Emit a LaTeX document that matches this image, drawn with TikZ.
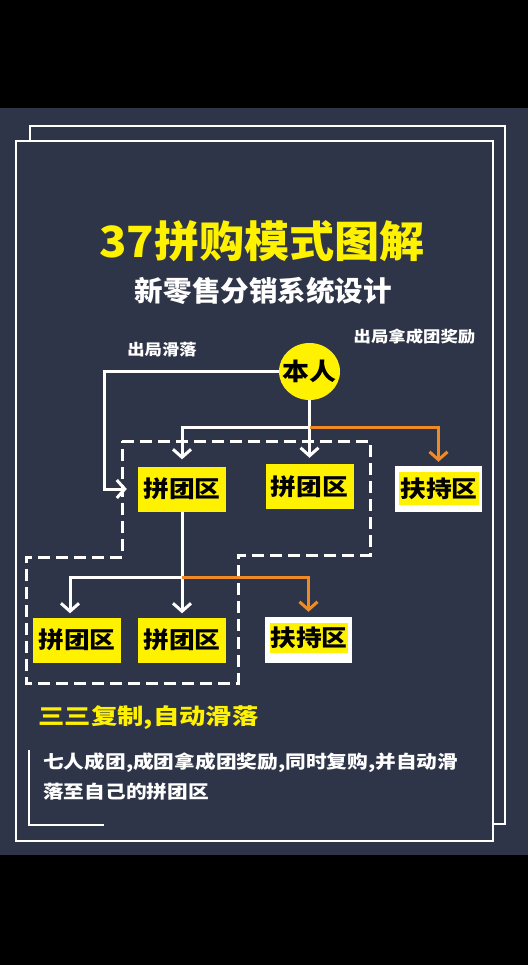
\documentclass[tikz,border=0pt]{standalone}
\usepackage{fontspec}
\usetikzlibrary{arrows.meta,shapes.geometric}
\newfontfamily\cjkT{Noto Sans CJK SC}[FakeStretch=1.05]
\newfontfamily\cjkY{Noto Sans CJK SC}[FakeStretch=1.2]
\newfontfamily\cjkS{Noto Sans CJK SC}[FakeStretch=1.02]
\newfontfamily\cjkB{Noto Sans CJK SC}[FakeStretch=1.12]
\newfontfamily\cjkC{Noto Sans CJK SC}[FakeStretch=1.15]
\definecolor{bg}{HTML}{2F3548}
\definecolor{ylw}{HTML}{FFF200}
\definecolor{org}{HTML}{EF8A26}
\tikzset{
  frame/.style={draw=white, line width=2.5pt},
  wl/.style={draw=white, line width=3pt},
  ol/.style={draw=org, line width=3pt},
  arr/.style={-{Straight Barb[length=8pt,width=18pt]}},
  dashbox/.style={draw=white, line width=3pt, dash pattern=on 12pt off 6pt},
  tuan/.style={rectangle, fill=ylw, minimum width=88pt, minimum height=45pt, inner sep=0pt,
    text=black, font=\cjkB\bfseries\fontsize{23}{23}\selectfont},
  fuout/.style={rectangle, fill=white, minimum width=87pt, minimum height=46pt, inner sep=0pt},
  fuin/.style={rectangle, fill=ylw, inner sep=0pt, text=black,
    font=\cjkB\bfseries\fontsize{23}{23}\selectfont},
  lbl/.style={text=white, font=\cjkB\bfseries\fontsize{15.5}{15.5}\selectfont, inner sep=0pt},
}
\begin{document}
\begin{tikzpicture}[x=1pt,y=-1pt]
\useasboundingbox (0,0) rectangle (528,965);
\fill[black] (0,0) rectangle (528,965);
\fill[bg] (0,108) rectangle (528,855);
\draw[frame] (30,126) rectangle (505,824);
\draw[frame, fill=bg] (16,141) rectangle (493,841);

\node[text=ylw, font=\cjkT\bfseries\fontsize{43}{43}\selectfont, inner sep=0pt] (title) at (262,241) {37拼购模式图解};
\node[text=white, font=\cjkS\bfseries\fontsize{28}{28}\selectfont, inner sep=0pt] (sub) at (263.5,291) {新零售分销系统设计};

\node[lbl] (l1) at (162,350) {出局滑落};
\node[lbl] (l2) at (414.5,337) {出局拿成团奖励};

\node[ellipse, fill=ylw, minimum width=61pt, minimum height=57pt, inner sep=0pt] (ben) at (309.5,371.5) {};
\node[text=black, font=\cjkB\bfseries\fontsize{24}{24}\selectfont, inner sep=0pt] (bent) at (ben.center) {本人};

% dashed outline
\draw[dashbox] (122,441) -- (370,441) -- (370,555) -- (238,555) -- (238,683) -- (26,683) -- (26,557) -- (122,557) -- cycle;

% row 1
\node[tuan] (t1) at (182,489) {拼团区};
\node[tuan] (t2) at (309.5,486.5) {拼团区};
\node[fuout] (f1) at (438.5,489) {};
\node[fuin, minimum width=80pt, minimum height=33pt] (f1t) at (439,488.5) {扶持区};

% row 2
\node[tuan] (tA) at (77,640) {拼团区};
\node[tuan] (tB) at (182,640) {拼团区};
\node[fuout] (f2) at (308.5,640) {};
\node[fuin, minimum width=76pt, minimum height=30pt] (f2t) at (309,638) {扶持区};

% connectors row 1
\coordinate (k1) at (104,371.5);
\coordinate (j1) at (310,427);
\draw[wl, arr, shorten >=11pt] (ben.west) -- (k1) |- (t1.west);
\draw[wl, arr, shorten >=6pt] (ben.south) -- (t2.north);
\draw[wl, arr, shorten >=7pt] (j1) -| (t1.north);
\draw[ol, arr, shorten >=4pt] (j1) -| (f1.north);

% connectors row 2
\coordinate (j2) at (182,577);
\draw[wl, arr, shorten >=4pt] (t1.south) -- (tB.north);
\draw[wl, arr, shorten >=4pt] (j2) -| ([xshift=-7pt]tA.north);
\draw[ol, arr, shorten >=5pt] (j2) -| (f2.north);

% bottom texts
\node[anchor=west, text=ylw, font=\cjkY\bfseries\fontsize{22}{22}\selectfont, inner sep=0pt] (s1) at (38,718) {三三复制,自动滑落};
\node[anchor=west, align=left, text=white, font=\cjkC\bfseries\fontsize{18}{30}\selectfont, inner sep=0pt] (s2) at (43,777) {七人成团,成团拿成团奖励,同时复购,并自动滑\\落至自己的拼团区};
\draw[white, line width=2pt] (29,750) -- (29,825) -- (104,825);
\end{tikzpicture}
\end{document}
